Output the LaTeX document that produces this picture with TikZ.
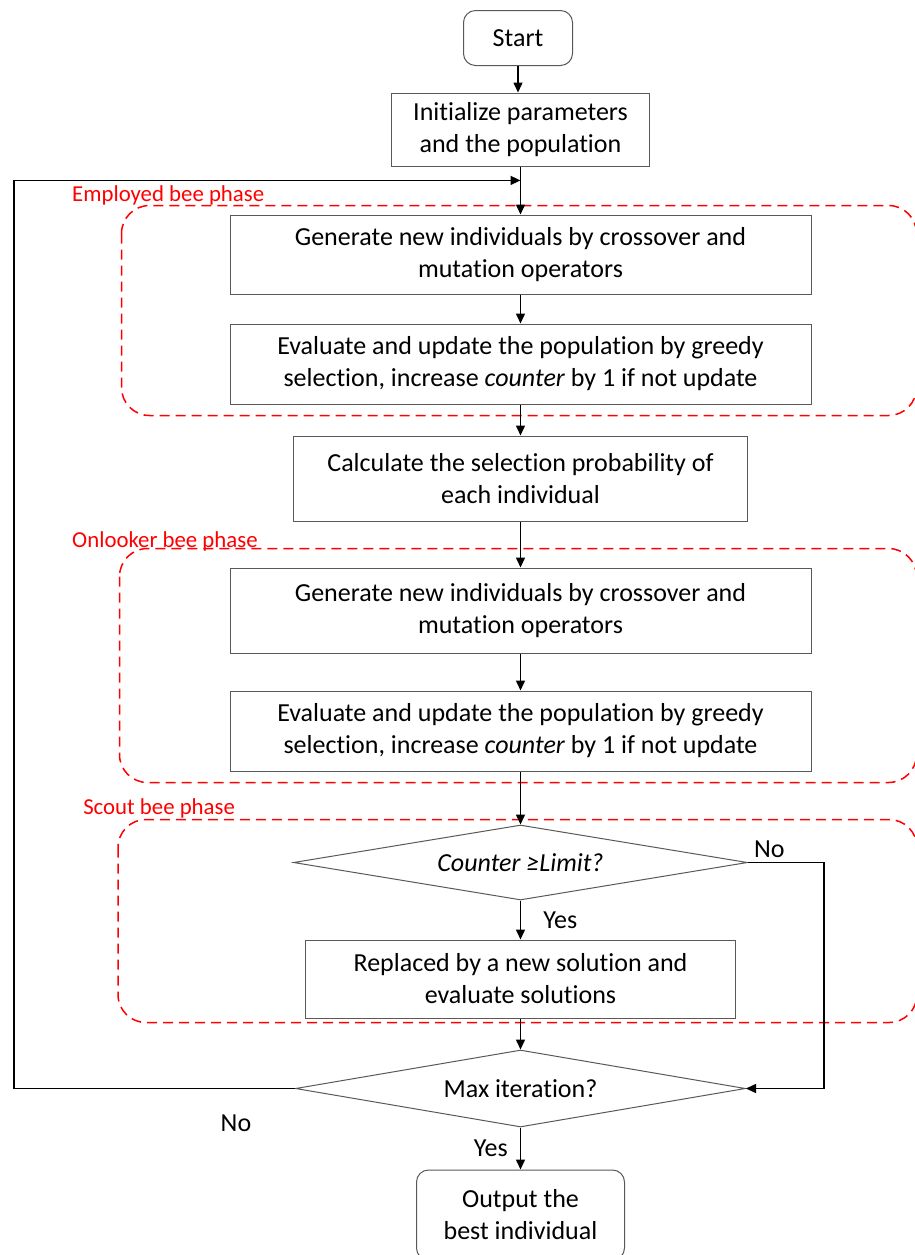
\documentclass[tikz,border=0pt]{standalone}
\usepackage{fontspec}
\setmainfont{Carlito}[Ligatures=NoCommon]
\usetikzlibrary{shapes.geometric,positioning,calc,arrows.meta}

\tikzset{
  proc/.style={draw=black!65, line width=0.5pt, align=center, inner sep=0pt,
    font=\fontsize{13}{16}\selectfont},
  term/.style={proc, rounded corners=6pt},
  decision/.style={proc, diamond, aspect=6},
  phase/.style={draw=red, dash pattern=on 5pt off 3pt, rounded corners=14pt, line width=0.75pt},
  phaselabel/.style={text=red, inner sep=0pt, font=\fontsize{11.4}{13}\selectfont},
  answer/.style={inner sep=2pt, font=\fontsize{13}{16}\selectfont},
}

\begin{document}
\begin{tikzpicture}[node distance=2cm, on grid, >={Triangle[length=5pt,width=4.5pt]}, line width=0.75pt]
    \clip (0,0) rectangle (457.5pt,-627.5pt);
    \node[proc, minimum width=129pt, minimum height=36.5pt] (init) at (260.25pt,-64.75pt) {Initialize parameters\\and the population};
    \node[term, minimum width=54.5pt, minimum height=27.5pt] (start) [above left=45.75pt and 1.25pt of init] {Start};
    \node[proc, minimum width=290.5pt, minimum height=39.5pt] (gen1) [below=62.5pt of init] {Generate new individuals by crossover and\\mutation operators};
    \node[proc, minimum width=290.5pt, minimum height=40pt] (eval1) [below=54.75pt of gen1] {Evaluate and update the population by greedy\\selection, increase \textit{counter} by 1 if not update};
    \node[proc, minimum width=227pt, minimum height=42.5pt] (calc) [below=57.25pt of eval1] {Calculate the selection probability of\\each individual};
    \node[proc, minimum width=290.5pt, minimum height=42.5pt] (gen2) [below=66pt of calc] {Generate new individuals by crossover and\\mutation operators};
    \node[proc, minimum width=290.5pt, minimum height=40pt] (eval2) [below=60.25pt of gen2] {Evaluate and update the population by greedy\\selection, increase \textit{counter} by 1 if not update};
    \node[decision, minimum width=227pt, minimum height=37.5pt] (dia1) [below=65.75pt of eval2] {\textit{Counter ≥Limit?}};
    \node[proc, minimum width=215pt, minimum height=39pt] (repl) [below=58.25pt of dia1] {Replaced by a new solution and\\evaluate solutions};
    \node[decision, minimum width=225pt, minimum height=38.5pt] (dia2) [below=54.75pt of repl] {Max iteration?};
    \node[term, minimum width=104pt, minimum height=45pt] (out) [below=63.25pt of dia2] {Output the\\best individual};

    % phases
    \draw[phase] ($(gen1.north west)+(-54pt,4.5pt)$) rectangle ($(eval1.south east)+(52.5pt,-5.5pt)$);
    \draw[phase] ($(gen2.north west)+(-55pt,9.5pt)$) rectangle ($(eval2.south east)+(52.5pt,-5.5pt)$);
    \draw[phase] ($(repl.west |- dia1.north)+(-93.5pt,2.5pt)$) rectangle ($(repl.south east)+(90.5pt,-2pt)$);
    \node[phaselabel, anchor=base west] (emplabel) at ($(gen1.north west)+(-79pt,6.7pt)$) {Employed bee phase};
    \node[phaselabel, anchor=base west] (onllabel) at ($(gen2.north west)+(-79pt,10.25pt)$) {Onlooker bee phase};
    \node[phaselabel, anchor=base west] (scolabel) at ($(dia1.north)+(-219pt,5pt)$) {Scout bee phase};

    \coordinate (loopin) at ($(init.south)!0.29!(gen1.north)$);
    \coordinate (loopleft) at (7pt,0);
    \coordinate (noright) at ($(dia1.east)+(38pt,0)$);

    \draw[->] (start) -- (start |- init.north);
    \draw[->] (init) -- (gen1);
    \draw[->] (gen1) -- (eval1);
    \draw[->] (eval1) -- (calc);
    \draw[->] (calc) -- (gen2);
    \draw[->] (gen2) -- (eval2);
    \draw[->] (eval2) -- (dia1);
    \draw[->] (dia1) -- node[answer, right=9pt] {Yes} (repl);
    \draw[->] (repl) -- (dia2);
    \draw[->] (dia2) -- node[answer, left=4pt] {Yes} (out);
    \draw[->] (dia1.east) -- node[answer, above, pos=0.28] {No} (noright) |- (dia2.east);
    \draw[->] (dia2.west) -- node[answer, below=11pt, pos=0.21] {No} (dia2.west -| loopleft) |- (loopin);
\end{tikzpicture}
\end{document}
